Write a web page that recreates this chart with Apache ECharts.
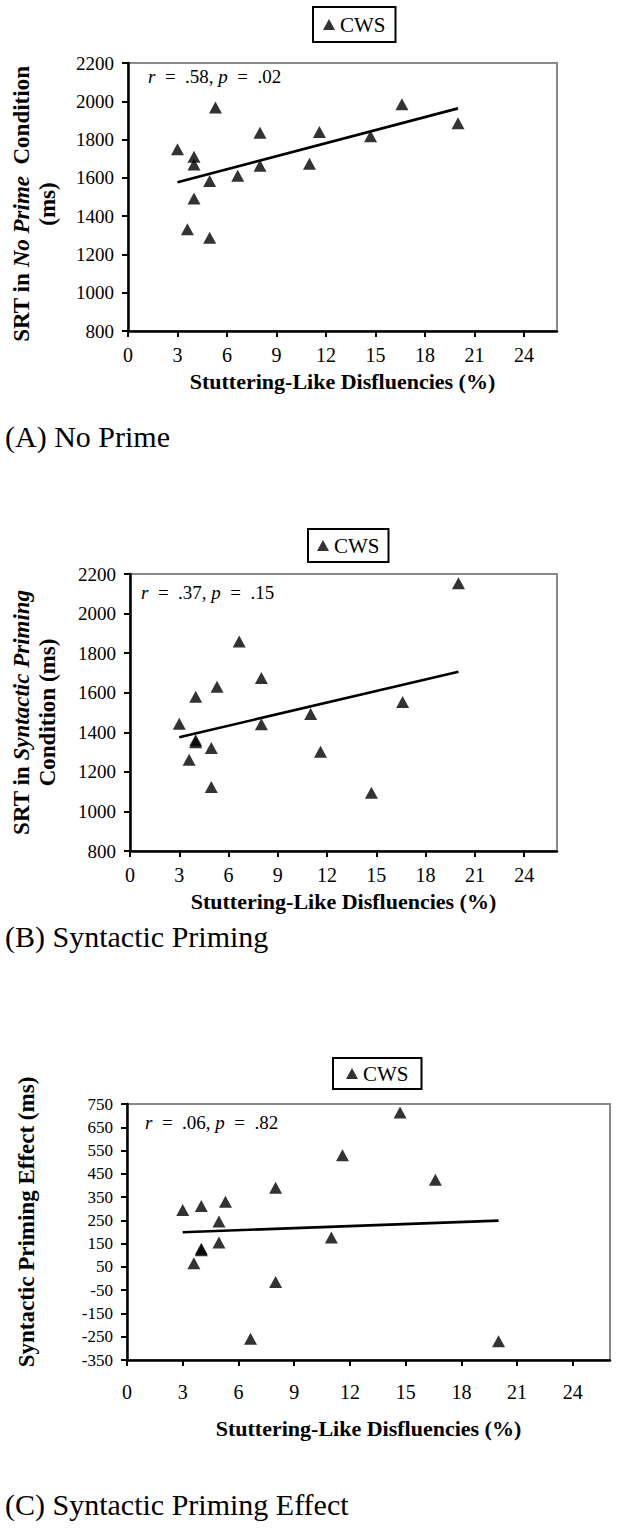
<!DOCTYPE html>
<html>
<head>
<meta charset="utf-8">
<script src="https://cdn.jsdelivr.net/npm/echarts@6/dist/echarts.min.js"></script>
<style>
  html, body { margin: 0; padding: 0; background: #fff; }
  #chart { width: 637px; height: 1534px; }
</style>
</head>
<body>
<div id="chart"></div>
<script>
// ---- data ----
const sld = [3.0, 3.6, 4.0, 4.0, 4.0, 4.95, 4.95, 5.3, 6.65, 8.0, 8.0, 11.0, 11.6, 14.7, 16.6, 20.0];
const srtNoPrime = [1750, 1332, 1710, 1670, 1492, 1583, 1287, 1967, 1611, 1836, 1663, 1674, 1839, 1817, 1984, 1885];
const srtSyntactic = [1443, 1261, 1579, 1360, 1350, 1321, 1124, 1630, 1859, 1440, 1674, 1492, 1302, 1095, 1553, 2153];
const primingEffect = [295, 66, 128, 312, 122, 245, 155, 330, -259, 390, -15, 176, 530, 714, 424, -269];

const trendX = [3, 20];
const trendNoPrime = [1577, 1963];
const trendSyntactic = [1375, 1706];
const trendEffect = [199, 249];

const xTicks = [0, 3, 6, 9, 12, 15, 18, 21, 24];
const yTicksSRT = [800, 1000, 1200, 1400, 1600, 1800, 2000, 2200];
const yTicksEffect = [-350, -250, -150, -50, 50, 150, 250, 350, 450, 550, 650, 750];

const seriesName = 'CWS';
const xTitle = 'Stuttering-Like Disfluencies (%)';
const captions = ['(A) No Prime', '(B) Syntactic Priming', '(C) Syntactic Priming Effect'];
const stats = [['.58', '.02'], ['.37', '.15'], ['.06', '.82']];

// ---- helpers ----
const FONT = 'Liberation Serif';
const pairs = (xs, ys) => xs.map((x, i) => [x, ys[i]]);
const NB = '\u00a0';
const plain = v => String(v);

function statText(r, p) {
  return '{i|r}' + NB + NB + '=' + NB + NB + r + ',' + NB + '{i|p}' + NB + NB + '=' + NB + NB + p;
}

function xAxisDef(gridIndex, labelMargin, nameGap) {
  return {
    type: 'value', gridIndex, min: 0, max: 26, interval: 3,
    axisLine: { onZero: false, lineStyle: { color: '#000', width: 2.5 } },
    axisTick: { show: true, length: 6, customValues: xTicks, lineStyle: { color: '#000', width: 2 } },
    axisLabel: { customValues: xTicks, formatter: plain, fontFamily: FONT, fontSize: 20, color: '#000', margin: labelMargin },
    splitLine: { show: false },
    name: xTitle, nameLocation: 'middle', nameGap: nameGap,
    nameTextStyle: { fontFamily: FONT, fontWeight: 'bold', fontSize: 22, color: '#000' }
  };
}

const richName = {
  n: { fontFamily: FONT, fontWeight: 'bold', fontSize: 23, color: '#000', lineHeight: 26 },
  i: { fontFamily: FONT, fontWeight: 'bold', fontStyle: 'italic', fontSize: 23, color: '#000', lineHeight: 26 }
};

function yAxisDef(gridIndex, min, max, interval, ticks, name, nameGap, labelSize, namePad) {
  return {
    type: 'value', gridIndex, min, max, interval,
    axisLine: { onZero: false, lineStyle: { color: '#000', width: 2.5 } },
    axisTick: { show: true, length: 6, customValues: ticks, lineStyle: { color: '#000', width: 2 } },
    axisLabel: { customValues: ticks, formatter: plain, fontFamily: FONT, fontSize: labelSize, color: '#000', margin: 14 },
    splitLine: { show: false },
    name: name, nameLocation: 'middle', nameGap: nameGap,
    nameTextStyle: { fontFamily: FONT, fontWeight: 'bold', fontSize: 23, color: '#000', lineHeight: 26,
      padding: namePad, rich: richName }
  };
}

function legendDef(left, top, padding) {
  return {
    data: [{ name: seriesName, icon: 'triangle' }],
    left, top, orient: 'horizontal',
    itemWidth: 12, itemHeight: 11, itemGap: 4,
    borderColor: '#000', borderWidth: 2, borderRadius: 0,
    padding: padding,
    selectedMode: false,
    textStyle: { fontFamily: FONT, fontSize: 21, color: '#000' },
    itemStyle: { color: '#000' }
  };
}

function scatter(idx, ys) {
  return {
    name: seriesName, type: 'scatter', xAxisIndex: idx, yAxisIndex: idx,
    symbol: 'triangle', symbolSize: [13, 12],
    itemStyle: { color: '#000' },
    data: pairs(sld, ys), z: 3
  };
}

function trend(idx, ys) {
  return {
    name: 'trend' + idx, type: 'line', xAxisIndex: idx, yAxisIndex: idx,
    showSymbol: false, symbol: 'none',
    lineStyle: { color: '#000', width: 2.6 },
    data: pairs(trendX, ys), z: 2, silent: true
  };
}

const gridBase = { show: true, backgroundColor: 'transparent', borderColor: '#8a8a8a', borderWidth: 2, containLabel: false };

const captionStyle = { fontFamily: FONT, fontWeight: 'normal', fontSize: 30, color: '#000' };
const statStyle = { fontFamily: FONT, fontWeight: 'normal', fontSize: 19, color: '#000',
  rich: { i: { fontFamily: FONT, fontStyle: 'italic', fontSize: 19, color: '#000' } } };

const option = {
  animation: false,
  backgroundColor: '#fff',
  grid: [
    Object.assign({ left: 128, top: 63, width: 429, height: 268 }, gridBase),
    Object.assign({ left: 128, top: 574, width: 429, height: 277 }, gridBase),
    Object.assign({ left: 127, top: 1104, width: 483, height: 256 }, gridBase)
  ],
  xAxis: [xAxisDef(0, 14, 39), xAxisDef(1, 14, 39), xAxisDef(2, 22, 57)],
  yAxis: [
    yAxisDef(0, 800, 2200, 200, yTicksSRT,
      '{n|SRT in }{i|No Prime}{n|' + NB + NB + 'Condition}\n{n|(ms)}', 68, 19, [0, 14, 0, 0]),
    yAxisDef(1, 800, 2200, 200, yTicksSRT,
      '{n|SRT in }{i|Syntactic Priming}\n{n|Condition (ms)}', 70, 19, [0, 0, 0, 0]),
    yAxisDef(2, -350, 750, 50, yTicksEffect,
      '{n|Syntactic Priming Effect (ms)}', 88, 17, [0, 0, 0, 20])
  ],
  legend: [
    legendDef(313, 7, [7, 10, 7, 10]),
    legendDef(308, 529, [6, 9, 6, 9]),
    legendDef(333, 1058, [5, 13, 5, 13])
  ],
  title: [
    { text: captions[0], left: 5, top: 421, padding: 0, textStyle: captionStyle },
    { text: captions[1], left: 5, top: 921, padding: 0, textStyle: captionStyle },
    { text: captions[2], left: 5, top: 1489, padding: 0, textStyle: captionStyle },
    { text: statText(stats[0][0], stats[0][1]), left: 148, top: 67, padding: 0, textStyle: statStyle },
    { text: statText(stats[1][0], stats[1][1]), left: 141, top: 583, padding: 0, textStyle: statStyle },
    { text: statText(stats[2][0], stats[2][1]), left: 145, top: 1113, padding: 0, textStyle: statStyle }
  ],
  series: [
    trend(0, trendNoPrime), scatter(0, srtNoPrime),
    trend(1, trendSyntactic), scatter(1, srtSyntactic),
    trend(2, trendEffect), scatter(2, primingEffect)
  ]
};

const chart = echarts.init(document.getElementById('chart'), null, { renderer: 'svg', width: 637, height: 1534 });
chart.setOption(option);
</script>
</body>
</html>
